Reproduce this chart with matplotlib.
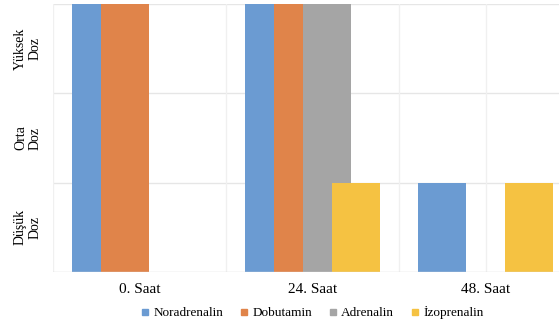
import matplotlib.pyplot as plt
from matplotlib.lines import Line2D

plt.rcParams['font.family'] = ['Liberation Serif', 'DejaVu Serif']

groups = ["0. Saat", "24. Saat", "48. Saat"]
dose_labels = ["Düşük\nDoz", "Orta\nDoz", "Yüksek\nDoz"]
series = ["Noradrenalin", "Dobutamin", "Adrenalin", "İzoprenalin"]
# dose level per group: 0 = none, 1 = düşük, 2 = orta, 3 = yüksek
noradrenalin = [3, 3, 1]
dobutamin = [3, 3, 0]
adrenalin = [0, 3, 0]
izoprenalin = [0, 1, 1]
values = [noradrenalin, dobutamin, adrenalin, izoprenalin]
colors = ["#6b9bd2", "#e0844a", "#a5a5a5", "#f5c242"]

fig = plt.figure(figsize=(5.59, 3.27), dpi=100)
# axes run past the right edge like the cropped original
ax = fig.add_axes([53 / 559, 55 / 327, 519 / 559, 268 / 327])

step = 0.168
width = 0.277
x = list(range(len(groups)))
for i, (name, vals, col) in enumerate(zip(series, values, colors)):
    off = (i - 1.5) * step
    ax.bar([xx + off for xx in x], vals, width=width, color=col,
           zorder=3 + i, label=name)

ax.set_xlim(-0.5, 2.5)
ax.set_ylim(0, 3)

for yv in [1, 2, 3]:
    ax.axhline(yv, color="#e6e6e6", lw=1, zorder=1)
for xv in [-0.5, 0.5, 1.5, 2.0]:
    ax.axvline(xv, color="#f0f0f0", lw=1, zorder=1)
ax.axhline(0, color="#d9d9d9", lw=1, zorder=10)

for s in ax.spines.values():
    s.set_visible(False)

ax.set_xticks(x)
ax.set_xticklabels(groups, fontsize=11)
ax.set_yticks([0.5, 1.5, 2.5])
ax.set_yticklabels(dose_labels, fontsize=10, rotation=90, va="center",
                   ha="right", multialignment="center")
ax.tick_params(axis="x", length=0, pad=8)
ax.tick_params(axis="y", length=0, pad=8)

handles = [Line2D([], [], marker="s", linestyle="none", markersize=5,
                  markerfacecolor=c, markeredgecolor=c) for c in colors]
fig.legend(handles, series, loc="center", ncol=4, frameon=False,
           bbox_to_anchor=(312.5 / 559, 0.043), fontsize=9.5,
           handlelength=0.6, handletextpad=0.3, columnspacing=1.3)

fig.savefig("out.png", dpi=100)
